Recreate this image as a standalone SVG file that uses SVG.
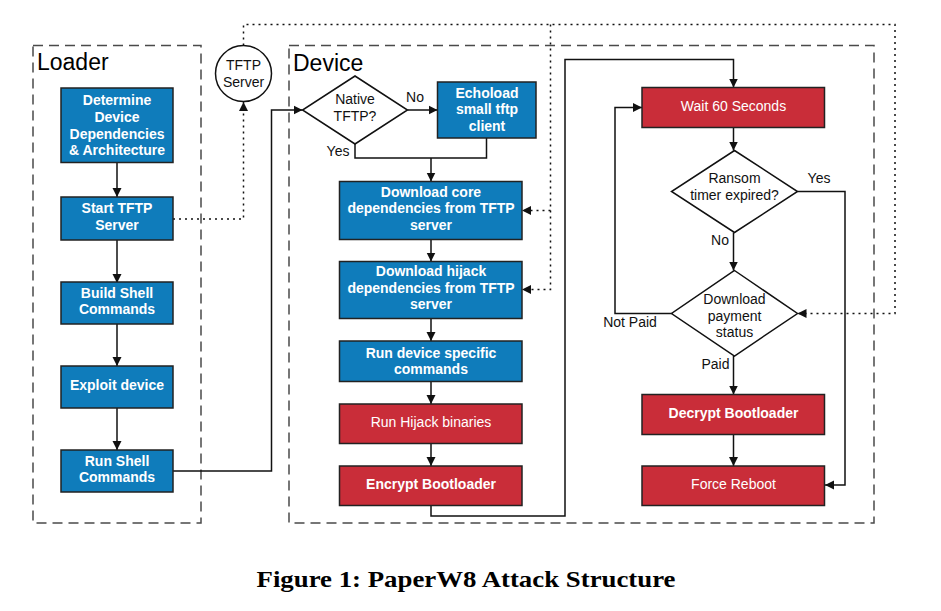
<svg xmlns="http://www.w3.org/2000/svg" width="941" height="611" viewBox="0 0 941 611">
<style>
.cont{fill:none;stroke:#4a4a4a;stroke-width:1.5;stroke-dasharray:10,6}
.blue{fill:#0F7CBB;stroke:#222;stroke-width:1.5}
.red{fill:#C92D39;stroke:#222;stroke-width:1.5}
.dia{fill:#fff;stroke:#111;stroke-width:1.5}
.wb{font-family:"Liberation Sans",Arial,sans-serif;font-size:14px;font-weight:bold;fill:#fff;text-anchor:middle}
.wn{font-family:"Liberation Sans",Arial,sans-serif;font-size:14px;fill:#fff;text-anchor:middle}
.bk{font-family:"Liberation Sans",Arial,sans-serif;font-size:14px;fill:#111;text-anchor:middle}
.title{font-family:"Liberation Sans",Arial,sans-serif;font-size:23px;fill:#000}
.ln{fill:none;stroke:#111;stroke-width:1.5}
.dot{fill:none;stroke:#111;stroke-width:1.5;stroke-dasharray:2,4}
</style>
<defs>
<marker id="ahw" viewBox="0 0 10 10" refX="10" refY="5" markerWidth="9" markerHeight="10" markerUnits="userSpaceOnUse" orient="auto">
<path d="M0,0 L10,5 L0,10 z" fill="#111"/>
</marker>
</defs>
<rect width="941" height="611" fill="#fff"/>

<g id="containers">
<rect class="cont" x="33" y="45.5" width="168" height="477.5"/>
<text class="title" x="37" y="70">Loader</text>
<rect class="cont" x="289" y="45.5" width="585" height="477.5"/>
<text class="title" x="293" y="71">Device</text>
</g>

<g id="connectors">
<line class="ln" x1="117" y1="162.5" x2="117" y2="197" marker-end="url(#ahw)"/>
<line class="ln" x1="117" y1="240" x2="117" y2="283" marker-end="url(#ahw)"/>
<line class="ln" x1="117" y1="324" x2="117" y2="366" marker-end="url(#ahw)"/>
<line class="ln" x1="117" y1="408" x2="117" y2="450" marker-end="url(#ahw)"/>
<polyline class="dot" points="173,219 243.5,219 243.5,102" marker-end="url(#ahw)"/>
<polyline class="dot" points="243.5,45.5 243.5,24.5 895,24.5 895,313.5 797.5,313.5" marker-end="url(#ahw)"/>
<polyline class="dot" points="550.5,24.5 550.5,289.5 522,289.5" marker-end="url(#ahw)"/>
<polyline class="dot" points="550.5,210.5 522,210.5" marker-end="url(#ahw)"/>
<polyline class="ln" points="173,471 271.5,471 271.5,110 302.5,110" marker-end="url(#ahw)"/>
<line class="ln" x1="407.5" y1="110" x2="437.5" y2="110" marker-end="url(#ahw)"/>
<text class="bk" x="415" y="102">No</text>
<polyline class="ln" points="355,144 355,158 486.5,158 486.5,138"/>
<line class="ln" x1="431" y1="158" x2="431" y2="181.5" marker-end="url(#ahw)"/>
<text class="bk" x="338" y="156">Yes</text>
<line class="ln" x1="431" y1="239.5" x2="431" y2="261.5" marker-end="url(#ahw)"/>
<line class="ln" x1="431" y1="318.5" x2="431" y2="341" marker-end="url(#ahw)"/>
<line class="ln" x1="431" y1="381.5" x2="431" y2="404" marker-end="url(#ahw)"/>
<line class="ln" x1="431" y1="443.5" x2="431" y2="466" marker-end="url(#ahw)"/>
<polyline class="ln" points="431,505.5 431,516 565,516 565,59.5 733.5,59.5 733.5,87.5" marker-end="url(#ahw)"/>
<line class="ln" x1="733.5" y1="127.5" x2="733.5" y2="150.5" marker-end="url(#ahw)"/>
<polyline class="ln" points="797.5,191.5 845,191.5 845,485 825,485" marker-end="url(#ahw)"/>
<text class="bk" x="819" y="183">Yes</text>
<line class="ln" x1="733.5" y1="232.5" x2="733.5" y2="270.5" marker-end="url(#ahw)"/>
<text class="bk" x="720" y="244.5">No</text>
<polyline class="ln" points="671.5,313.5 615,313.5 615,107.5 642,107.5" marker-end="url(#ahw)"/>
<text class="bk" x="630" y="327">Not Paid</text>
<line class="ln" x1="733.5" y1="356" x2="733.5" y2="394.5" marker-end="url(#ahw)"/>
<text class="bk" x="715.5" y="368.5">Paid</text>
<line class="ln" x1="733.5" y1="434.5" x2="733.5" y2="466" marker-end="url(#ahw)"/>
</g>

<g id="tftp-server">
<circle cx="243.5" cy="73.5" r="28" fill="#fff" stroke="#111" stroke-width="1.5"/>
<text class="bk" x="243.5" y="70">TFTP</text>
<text class="bk" x="243.5" y="87">Server</text>
</g>

<g id="determine">
<rect class="blue" x="61" y="88" width="112" height="74.5"/>
<text class="wb" x="117" y="105">Determine</text>
<text class="wb" x="117" y="122">Device</text>
<text class="wb" x="117" y="138.5">Dependencies</text>
<text class="wb" x="117" y="155">&amp; Architecture</text>
</g>
<g id="start-tftp">
<rect class="blue" x="61" y="197" width="112" height="43"/>
<text class="wb" x="117" y="213">Start TFTP</text>
<text class="wb" x="117" y="229.5">Server</text>
</g>
<g id="build-shell">
<rect class="blue" x="61" y="282" width="112" height="42"/>
<text class="wb" x="117" y="297.5">Build Shell</text>
<text class="wb" x="117" y="314">Commands</text>
</g>
<g id="exploit">
<rect class="blue" x="61" y="366" width="112" height="42"/>
<text class="wb" x="117" y="389.5">Exploit device</text>
</g>
<g id="run-shell">
<rect class="blue" x="61" y="450" width="112" height="42"/>
<text class="wb" x="117" y="465.5">Run Shell</text>
<text class="wb" x="117" y="482">Commands</text>
</g>

<g id="native-tftp">
<polygon class="dia" points="355,76 407.5,110 355,144 302.5,110"/>
<text class="bk" x="355" y="104">Native</text>
<text class="bk" x="355" y="121">TFTP?</text>
</g>
<g id="echoload">
<rect class="blue" x="437.5" y="82" width="98.5" height="56"/>
<text class="wb" x="487" y="97.5">Echoload</text>
<text class="wb" x="487" y="114">small tftp</text>
<text class="wb" x="487" y="130.5">client</text>
</g>
<g id="download-core">
<rect class="blue" x="339.5" y="181.5" width="182.5" height="58"/>
<text class="wb" x="431" y="196.5">Download core</text>
<text class="wb" x="431" y="213">dependencies from TFTP</text>
<text class="wb" x="431" y="229.5">server</text>
</g>
<g id="download-hijack">
<rect class="blue" x="339.5" y="261.5" width="182.5" height="57"/>
<text class="wb" x="431" y="276">Download hijack</text>
<text class="wb" x="431" y="292.5">dependencies from TFTP</text>
<text class="wb" x="431" y="309">server</text>
</g>
<g id="run-device">
<rect class="blue" x="339.5" y="341" width="182.5" height="40.5"/>
<text class="wb" x="431" y="357.5">Run device specific</text>
<text class="wb" x="431" y="374">commands</text>
</g>
<g id="run-hijack">
<rect class="red" x="339.5" y="404" width="182.5" height="39.5"/>
<text class="wn" x="431" y="427">Run Hijack binaries</text>
</g>
<g id="encrypt">
<rect class="red" x="339.5" y="466" width="182.5" height="39.5"/>
<text class="wb" x="431" y="489">Encrypt Bootloader</text>
</g>

<g id="wait">
<rect class="red" x="642" y="87.5" width="182.5" height="40"/>
<text class="wn" x="733.5" y="111">Wait 60 Seconds</text>
</g>
<g id="ransom">
<polygon class="dia" points="734.5,150.5 797.5,191.5 734.5,232.5 671.5,191.5"/>
<text class="bk" x="734.5" y="183">Ransom</text>
<text class="bk" x="734.5" y="199.5">timer expired?</text>
</g>
<g id="payment">
<polygon class="dia" points="734.5,270.5 797.5,313.5 734.5,356 671.5,313.5"/>
<text class="bk" x="734.5" y="304">Download</text>
<text class="bk" x="734.5" y="320.5">payment</text>
<text class="bk" x="734.5" y="337">status</text>
</g>
<g id="decrypt">
<rect class="red" x="642" y="394.5" width="182.5" height="40"/>
<text class="wb" x="733.5" y="418">Decrypt Bootloader</text>
</g>
<g id="force-reboot">
<rect class="red" x="642" y="466" width="182.5" height="39.5"/>
<text class="wn" x="733.5" y="489">Force Reboot</text>
</g>

<text x="466" y="586.5" font-family="'Liberation Serif','Times New Roman',serif" font-size="23" font-weight="bold" text-anchor="middle" fill="#000" textLength="419" lengthAdjust="spacingAndGlyphs">Figure 1: PaperW8 Attack Structure</text>
</svg>
